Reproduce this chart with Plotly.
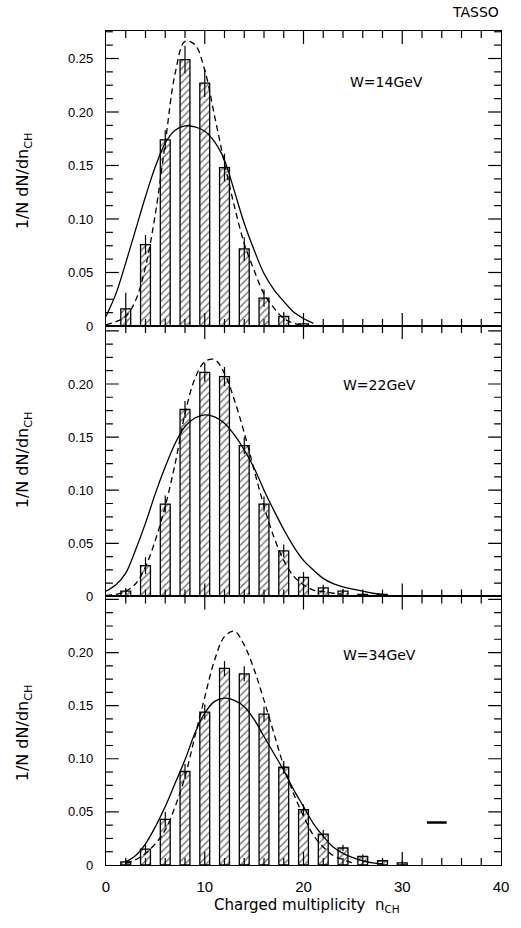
import plotly.graph_objects as go
from plotly.subplots import make_subplots

# ---------------- data ----------------
bar_n_14 = [2, 4, 6, 8, 10, 12, 14, 16, 18, 20]
bar_v_14 = [0.016, 0.076, 0.174, 0.249, 0.227, 0.148, 0.072, 0.026, 0.009, 0.002]
err_14 = [0.015, 0.009, 0.009, 0.013, 0.013, 0.013, 0.011, 0.008, 0.004, 0.002]

bar_n_22 = [2, 4, 6, 8, 10, 12, 14, 16, 18, 20, 22, 24, 26, 28]
bar_v_22 = [0.005, 0.029, 0.087, 0.176, 0.211, 0.207, 0.142, 0.087, 0.043, 0.018, 0.008, 0.005, 0.002, 0.002]
err_22 = [0.003, 0.008, 0.008, 0.008, 0.009, 0.009, 0.008, 0.007, 0.006, 0.005, 0.003, 0.002, 0.002, 0.002]

bar_n_34 = [2, 4, 6, 8, 10, 12, 14, 16, 18, 20, 22, 24, 26, 28, 30]
bar_v_34 = [0.003, 0.015, 0.043, 0.088, 0.144, 0.185, 0.180, 0.142, 0.092, 0.052, 0.029, 0.016, 0.008, 0.004, 0.002]
err_34 = [0.002, 0.005, 0.007, 0.007, 0.007, 0.007, 0.007, 0.007, 0.006, 0.005, 0.004, 0.003, 0.002, 0.002, 0.002]

# dashed curves
dash_n_14 = list(range(0, 21))
dash_v_14 = [0.001, 0.004, 0.009, 0.024, 0.055, 0.105, 0.171, 0.236, 0.266, 0.263, 0.239,
             0.196, 0.152, 0.112, 0.077, 0.052, 0.030, 0.017, 0.007, 0.0025, 0.0005]
dash_n_22 = list(range(0, 25))
dash_v_22 = [0.001, 0.002, 0.005, 0.012, 0.028, 0.053, 0.085, 0.125, 0.172, 0.205, 0.221,
             0.223, 0.210, 0.185, 0.154, 0.119, 0.085, 0.056, 0.034, 0.019, 0.011, 0.006,
             0.0045, 0.003, 0.002]
dash_n_34 = list(range(2, 26))
dash_v_34 = [0.0016, 0.005, 0.011, 0.020, 0.033, 0.055, 0.083, 0.121, 0.158, 0.193, 0.215,
             0.220, 0.207, 0.184, 0.155, 0.124, 0.093, 0.067, 0.046, 0.028, 0.017, 0.009,
             0.005, 0.002]

# solid curves
sol_n_14 = list(range(0, 22))
sol_v_14 = [0.009, 0.030, 0.059, 0.090, 0.121, 0.149, 0.171, 0.183, 0.187, 0.186, 0.182,
            0.172, 0.155, 0.126, 0.096, 0.071, 0.049, 0.034, 0.023, 0.013, 0.007, 0.0025]
sol_n_22 = list(range(0, 29))
sol_v_22 = [0.005, 0.011, 0.022, 0.044, 0.069, 0.097, 0.122, 0.144, 0.160, 0.168, 0.171,
            0.169, 0.163, 0.152, 0.138, 0.121, 0.100, 0.081, 0.063, 0.047, 0.034, 0.025,
            0.017, 0.012, 0.009, 0.007, 0.005, 0.003, 0.002]
sol_n_34 = list(range(2, 29))
sol_v_34 = [0.003, 0.009, 0.020, 0.036, 0.055, 0.077, 0.099, 0.124, 0.143, 0.154, 0.157,
            0.155, 0.149, 0.137, 0.121, 0.105, 0.089, 0.071, 0.055, 0.039, 0.027, 0.017,
            0.011, 0.007, 0.004, 0.002, 0.001]

scale_bar_x = [32.5, 34.5]
scale_bar_y = [0.04, 0.04]

panel_labels = ["W=14GeV", "W=22GeV", "W=34GeV"]
y_tick_vals_top = [0, 0.05, 0.10, 0.15, 0.20, 0.25]
y_tick_text_top = ["0", "0.05", "0.10", "0.15", "0.20", "0.25"]
y_tick_vals = [0, 0.05, 0.10, 0.15, 0.20]
y_tick_text = ["0", "0.05", "0.10", "0.15", "0.20"]
x_tick_vals = [0, 10, 20, 30, 40]
x_tick_text = ["0", "10", "20", "30", "40"]
Y_MINOR_STEP = 0.0125
X_MINOR_STEP = 2

# ---------------- figure ----------------
FONT = "Liberation Sans"
TFONT = "DejaVu Sans"
fig = make_subplots(rows=3, cols=1, shared_xaxes=True, vertical_spacing=0)

panels = [
    (bar_n_14, bar_v_14, err_14, dash_n_14, dash_v_14, sol_n_14, sol_v_14),
    (bar_n_22, bar_v_22, err_22, dash_n_22, dash_v_22, sol_n_22, sol_v_22),
    (bar_n_34, bar_v_34, err_34, dash_n_34, dash_v_34, sol_n_34, sol_v_34),
]

PLOT_W = 401.0
X_RANGE = [0, 40]
doms = {1: [0.6463, 1.0], 2: [0.322, 0.6463], 3: [0.0, 0.322]}
yranges = {1: [0, 0.2757], 2: [0, 0.2546], 3: [0, 0.2528]}
panel_h = {1: 295.0, 2: 270.5, 3: 268.5}
MAJ_LEN, MIN_LEN = 13, 7
HIDDEN = dict(size=2, color="rgba(0,0,0,0)")


def tick_err(lengths_up, lengths_down):
    return dict(type="data", symmetric=False, array=lengths_up, arrayminus=lengths_down,
                visible=True, color="black", thickness=1.2, width=0)


for i, (bn, bv, be, dn, dv, sn, sv) in enumerate(panels, start=1):
    fig.add_trace(go.Bar(
        x=bn, y=bv, width=1.0,
        marker=dict(color="white", line=dict(color="black", width=1.3),
                    pattern=dict(shape="/", fgcolor="black", bgcolor="white",
                                 size=5, solidity=0.3)),
        error_y=dict(type="data", array=be, visible=True, color="black",
                     thickness=1.2, width=0),
        showlegend=False), row=i, col=1)
    fig.add_trace(go.Scatter(
        x=sn, y=sv, mode="lines", line=dict(color="black", width=1.3, shape="spline"),
        showlegend=False), row=i, col=1)
    fig.add_trace(go.Scatter(
        x=dn, y=dv, mode="lines",
        line=dict(color="black", width=1.3, shape="spline", dash="6px,4px"),
        showlegend=False), row=i, col=1)

    # inward frame tick marks, drawn as error bars from the frame edges
    ymax = yranges[i][1]
    dx = (X_RANGE[1] - X_RANGE[0]) / PLOT_W   # axis units per pixel
    dy = ymax / panel_h[i]
    nk = int(ymax / Y_MINOR_STEP + 1e-9)
    yt = [k * Y_MINOR_STEP for k in range(1, nk + 1)]
    ylen = [(MAJ_LEN if k % 4 == 0 else MIN_LEN) * dx for k in range(1, nk + 1)]
    zeros_y = [0] * len(yt)
    xt = list(range(X_MINOR_STEP, X_RANGE[1], X_MINOR_STEP))
    xlen = [(MAJ_LEN if v % 10 == 0 else MIN_LEN) * dy for v in xt]
    zeros_x = [0] * len(xt)

    fig.add_trace(go.Scatter(x=[X_RANGE[0]] * len(yt), y=yt, mode="markers", marker=HIDDEN,
                             error_x=tick_err(ylen, zeros_y), hoverinfo="skip",
                             showlegend=False, cliponaxis=False), row=i, col=1)
    fig.add_trace(go.Scatter(x=[X_RANGE[1]] * len(yt), y=yt, mode="markers", marker=HIDDEN,
                             error_x=tick_err(zeros_y, ylen), hoverinfo="skip",
                             showlegend=False, cliponaxis=False), row=i, col=1)
    fig.add_trace(go.Scatter(x=xt, y=[0] * len(xt), mode="markers", marker=HIDDEN,
                             error_y=tick_err(xlen, zeros_x), hoverinfo="skip",
                             showlegend=False, cliponaxis=False), row=i, col=1)
    fig.add_trace(go.Scatter(x=xt, y=[ymax] * len(xt), mode="markers", marker=HIDDEN,
                             error_y=tick_err(zeros_x, xlen), hoverinfo="skip",
                             showlegend=False, cliponaxis=False), row=i, col=1)

fig.add_trace(go.Scatter(x=scale_bar_x, y=scale_bar_y, mode="lines",
                         line=dict(color="black", width=2.5), showlegend=False),
              row=3, col=1)

fig.update_layout(
    width=521, height=928,
    margin=dict(l=106, r=14, t=31, b=63),
    paper_bgcolor="white", plot_bgcolor="white",
    barmode="overlay",
    font=dict(family=FONT, color="black", size=13),
)

for i in (1, 2, 3):
    fig.update_yaxes(
        row=i, col=1, domain=doms[i], range=yranges[i],
        tickmode="array",
        tickvals=y_tick_vals_top if i == 1 else y_tick_vals,
        ticktext=y_tick_text_top if i == 1 else y_tick_text,
        ticks="outside", ticklen=9, tickcolor="white",
        showline=True, linecolor="black", linewidth=1.3, mirror=True,
        showgrid=False, zeroline=False,
        tickfont=dict(size=13, family=FONT),
    )
    fig.update_xaxes(
        row=i, col=1, range=X_RANGE,
        tickmode="array", tickvals=x_tick_vals, ticktext=x_tick_text,
        showticklabels=(i == 3),
        ticks="outside", ticklen=8, tickcolor="white",
        showline=True, linecolor="black", linewidth=1.3, mirror=True,
        showgrid=False, zeroline=False,
        tickfont=dict(size=15, family=FONT),
    )

label_pos = [(24.5, 0.228), (23.8, 0.199), (23.8, 0.198)]
for i, (txt, (lx, ly)) in enumerate(zip(panel_labels, label_pos), start=1):
    xr = "x" if i == 1 else f"x{i}"
    yr = "y" if i == 1 else f"y{i}"
    fig.add_annotation(x=lx, y=ly, xref=xr, yref=yr, text=txt, showarrow=False,
                       xanchor="left", yanchor="middle",
                       font=dict(size=14, family=TFONT))

for py in (181, 460, 733):
    fig.add_annotation(xref="paper", yref="paper", x=(22 - 106) / PLOT_W,
                       y=(865 - py) / 834, text="1/N dN/dn<sub>CH</sub>",
                       textangle=-90, showarrow=False, xanchor="center", yanchor="middle",
                       font=dict(size=16, family=TFONT))

fig.add_annotation(xref="paper", yref="paper", x=(310 - 106) / PLOT_W, y=(865 - 906) / 834,
                   text="Charged multiplicity  n<sub>CH</sub>", showarrow=False,
                   xanchor="center", yanchor="middle",
                   font=dict(size=15, family=TFONT))

fig.add_annotation(xref="paper", yref="paper", x=1.0, y=(865 - 12) / 834,
                   text="TASSO", showarrow=False, xanchor="right", yanchor="middle",
                   font=dict(size=14, family=TFONT))

fig.write_html("out.html")
